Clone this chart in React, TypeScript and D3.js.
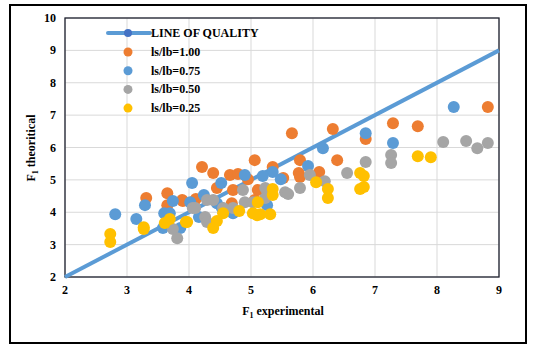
import React from "react";
import * as d3 from "d3";

// readings (F1 experimental, F1 theoritical)
const ratio100: [number, number][] = [
  [8.82, 7.25], [7.29, 6.75], [7.69, 6.66], [6.85, 6.26], [5.66, 6.44], [6.32, 6.57],
  [5.79, 5.61], [6.39, 5.61], [6.1, 5.24], [5.77, 5.21], [5.79, 5.09], [5.35, 5.4],
  [5.52, 5.06], [4.21, 5.4], [5.06, 5.61], [4.39, 5.21], [4.66, 5.15], [4.79, 5.18],
  [4.95, 5.02], [4.45, 4.75], [4.71, 4.69], [3.89, 4.38], [4.69, 4.28], [3.31, 4.44],
  [3.65, 4.59], [3.65, 4.22], [3.9, 4.35], [4.11, 4.41], [5.11, 4.69], [5.06, 4.38],
];
const ratio075: [number, number][] = [
  [8.27, 7.25], [6.85, 6.44], [7.29, 6.14], [6.16, 5.98], [5.92, 5.43], [5.35, 5.24],
  [5.48, 5.02], [5.19, 5.12], [4.05, 4.9], [4.52, 4.9], [4.9, 5.15], [4.02, 4.31],
  [4.24, 4.53], [4.45, 4.28], [4.53, 4.13], [5.26, 4.22], [4.71, 3.97], [4.16, 3.85],
  [2.81, 3.94], [3.29, 4.22], [3.15, 3.79], [3.74, 4.35], [3.6, 3.97], [3.69, 3.97],
  [3.58, 3.51], [3.86, 3.51],
];
const ratio050: [number, number][] = [
  [8.1, 6.17], [8.47, 6.2], [8.65, 5.98], [8.82, 6.14], [7.26, 5.77], [7.26, 5.52],
  [6.85, 5.55], [6.55, 5.21], [5.95, 5.15], [6.19, 4.96], [5.79, 4.75], [5.55, 4.62],
  [5.6, 4.56], [5.23, 4.75], [5.23, 4.44], [4.87, 4.69], [4.29, 4.38], [4.39, 4.38],
  [4.06, 4.13], [4.55, 4.13], [4.71, 4.13], [4.9, 4.31], [5.03, 4.31], [4.26, 3.85],
  [4.29, 3.7], [3.74, 3.48], [3.81, 3.2], [4.1, 4.13],
];
const ratio025: [number, number][] = [
  [7.69, 5.73], [7.9, 5.7], [6.76, 5.21], [6.82, 5.12], [6.76, 4.72], [6.82, 4.78],
  [6.05, 4.93], [6.24, 4.72], [6.24, 4.44], [5.35, 4.72], [5.35, 4.53], [5.15, 3.94],
  [5.31, 3.94], [5.11, 4.31], [4.55, 3.97], [4.81, 4.04], [5.03, 3.97], [5.1, 3.91],
  [4.45, 3.73], [4.39, 3.51], [3.97, 3.7], [2.73, 3.33], [2.73, 3.08], [3.27, 3.54],
  [3.27, 3.48], [3.61, 3.67], [3.69, 3.79], [3.95, 3.7],
];
const qualityLine: [number, number][] = [[2, 2], [9, 9]];

const xTicks = [2, 3, 4, 5, 6, 7, 8, 9];
const yTicks = [2, 3, 4, 5, 6, 7, 8, 9, 10];

const series = [
  { name: "ls/lb=1.00", data: ratio100, color: "#ed7d31" },
  { name: "ls/lb=0.75", data: ratio075, color: "#5b9bd5" },
  { name: "ls/lb=0.50", data: ratio050, color: "#a5a5a5" },
  { name: "ls/lb=0.25", data: ratio025, color: "#ffc000" },
];

const App = () => {
  const w = 542;
  const h = 354;
  const m = { left: 65, right: 499, top: 18, bottom: 277 };

  const x = d3.scaleLinear().domain([2, 9]).range([m.left, m.right]);
  const y = d3.scaleLinear().domain([2, 10]).range([m.bottom, m.top]);
  const line = d3
    .line<[number, number]>()
    .x((d) => x(d[0]))
    .y((d) => y(d[1]));

  const font = "'Liberation Serif', 'Times New Roman', serif";

  return (
    <svg
      width={w}
      height={h}
      style={{ position: "absolute", left: 0, top: 0, background: "#fff" }}
      fontFamily={font}
      fontWeight="bold"
    >
      <rect x={10} y={5} width={516} height={338} fill="#fff" stroke="#000" strokeWidth={2} />

      {/* grid */}
      {xTicks.map((t) => (
        <line key={"gx" + t} x1={x(t)} x2={x(t)} y1={m.top} y2={m.bottom} stroke="#d9d9d9" />
      ))}
      {yTicks.map((t) => (
        <line key={"gy" + t} x1={m.left} x2={m.right} y1={y(t)} y2={y(t)} stroke="#d9d9d9" />
      ))}
      <rect
        x={m.left}
        y={m.top}
        width={m.right - m.left}
        height={m.bottom - m.top}
        fill="none"
        stroke="#1f2230"
        strokeWidth={1.3}
      />

      {/* tick labels */}
      {xTicks.map((t) => (
        <text key={"tx" + t} x={x(t)} y={m.bottom + 17} textAnchor="middle" fontSize={12}>
          {t}
        </text>
      ))}
      {yTicks.map((t) => (
        <text key={"ty" + t} x={m.left - 9} y={y(t) + 4} textAnchor="end" fontSize={12}>
          {t}
        </text>
      ))}

      {/* axis titles */}
      <text x={283} y={315} textAnchor="middle" fontSize={12}>
        F<tspan fontSize={8} dy={3}>1</tspan>
        <tspan dy={-3}> experimental</tspan>
      </text>
      <text transform="translate(35,148) rotate(-90)" textAnchor="middle" fontSize={12}>
        F<tspan fontSize={8} dy={3}>1</tspan>
        <tspan dy={-3}> theoritical</tspan>
      </text>

      {/* line of quality */}
      <path d={line(qualityLine) ?? ""} fill="none" stroke="#5b9bd5" strokeWidth={4} />

      {/* scatter series */}
      {series.map((s) => (
        <g key={s.name}>
          {s.data.map((d, i) => (
            <circle key={i} cx={x(d[0])} cy={y(d[1])} r={6} fill={s.color} />
          ))}
        </g>
      ))}

      {/* legend */}
      <g>
        <line x1={108} x2={150} y1={33} y2={33} stroke="#5b9bd5" strokeWidth={4} strokeLinecap="round" />
        <circle cx={128} cy={33} r={4} fill="#4472c4" />
        <text x={151} y={37} fontSize={12}>LINE OF QUALITY</text>
        {series.map((s, i) => (
          <g key={"lg" + s.name}>
            <circle cx={128} cy={52 + i * 18.7} r={4.5} fill={s.color} />
            <text x={151} y={56 + i * 18.7} fontSize={12}>
              {s.name}
            </text>
          </g>
        ))}
      </g>
    </svg>
  );
};

export default App;
